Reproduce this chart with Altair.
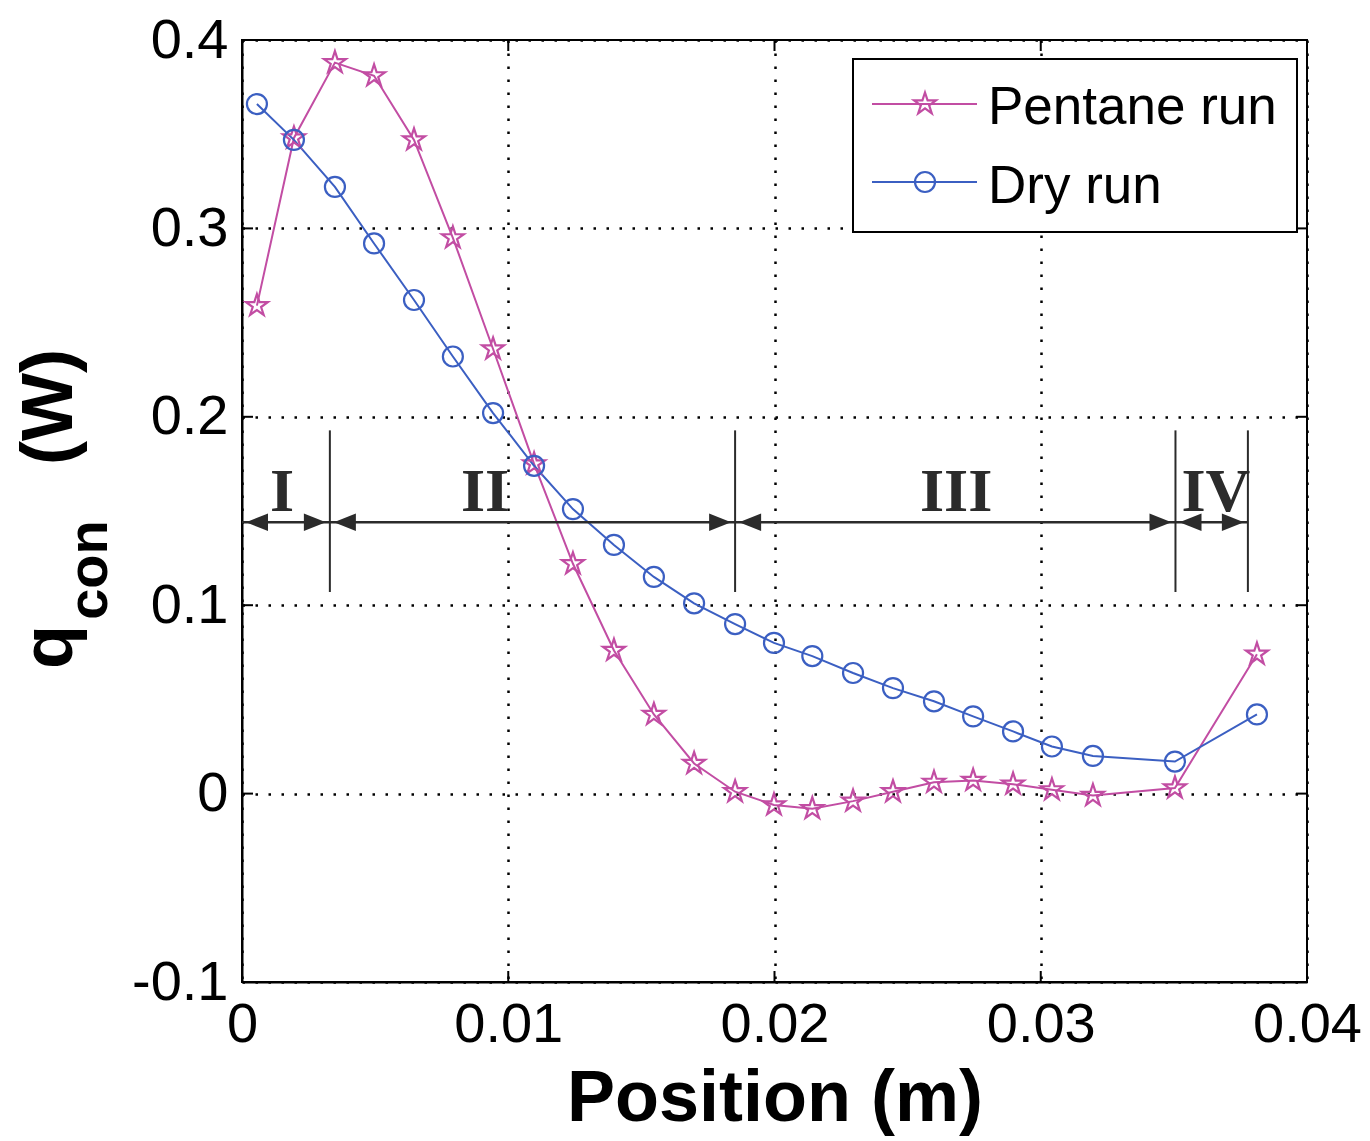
import altair as alt
import pandas as pd

# ---------------- data ----------------
position_m = [0.00056, 0.00195, 0.00349, 0.00496, 0.00646, 0.00792, 0.00943, 0.01097,
              0.01243, 0.01397, 0.01547, 0.01698, 0.01852, 0.01998, 0.02142, 0.02295,
              0.02445, 0.02599, 0.02746, 0.02896, 0.03042, 0.03196, 0.03504, 0.03812]
pentane_q = [0.259, 0.348, 0.388, 0.381, 0.347, 0.295, 0.236, 0.175,
             0.122, 0.076, 0.042, 0.016, 0.001, -0.006, -0.008, -0.004,
             0.001, 0.006, 0.007, 0.005, 0.002, -0.001, 0.003, 0.074]
dry_q = [0.366, 0.347, 0.322, 0.292, 0.262, 0.232, 0.202, 0.174,
         0.151, 0.132, 0.115, 0.101, 0.090, 0.080, 0.073, 0.064,
         0.056, 0.049, 0.041, 0.033, 0.025, 0.020, 0.017, 0.042]
series_names = ["Pentane run", "Dry run"]
series_colors = ["#c24da3", "#3b5fc2"]

region_labels = ["I", "II", "III", "IV"]
region_bounds = [0.0, 0.0033, 0.01852, 0.03506, 0.03778]
region_label_x = [0.0015, 0.00913, 0.02682, 0.03658]
region_line_top = 0.1928
region_line_bottom = 0.107
region_arrow_y = 0.144
region_label_base = 0.150

x_ticks = [0, 0.01, 0.02, 0.03, 0.04]
y_ticks = [-0.1, 0, 0.1, 0.2, 0.3, 0.4]

# ---------------- tables ----------------
df = pd.DataFrame({
    "x": position_m + position_m,
    "q": pentane_q + dry_q,
    "series": [series_names[0]] * len(position_m) + [series_names[1]] * len(position_m),
})
regions = pd.DataFrame({
    "start": region_bounds[:-1],
    "end": region_bounds[1:],
    "label": region_labels,
    "lx": region_label_x,
})
bounds = pd.DataFrame({"b": region_bounds[1:]})
xt = pd.DataFrame({"v": x_ticks})
yt = pd.DataFrame({"v": y_ticks})

W, H = 1065, 942
DARK = "#2b2b2b"
STAR = "M0,-1L0.225,-0.309L0.951,-0.309L0.363,0.118L0.588,0.809L0,0.382L-0.588,0.809L-0.363,0.118L-0.951,-0.309L-0.225,-0.309Z"
HEAD_LEFT = "M0,0L2,-0.8L2,0.8Z"
HEAD_RIGHT = "M0,0L-2,-0.8L-2,0.8Z"
LABEL_FONT = "Liberation Sans, Arial"
TITLE_FONT = "Liberation Sans, Arial"
STAR_SIZE = 530
CIRCLE_SIZE = 400

xscale = alt.Scale(domain=[0, 0.04], nice=False, zero=False)
yscale = alt.Scale(domain=[-0.1, 0.4], nice=False, zero=False)
cscale = alt.Scale(domain=series_names, range=series_colors)

x_enc = alt.X("x:Q", scale=xscale, axis=alt.Axis(
    values=x_ticks, labelExpr="toString(datum.value)", title="Position (m)",
    titleFont=TITLE_FONT, titleFontSize=72, titleFontWeight="bold",
    titleBaseline="alphabetic", titleY=138, titleColor="black",
    labelFont=LABEL_FONT, labelFontSize=56, labelPadding=15, labelColor="black",
    labelBaseline="top", labelFlush=False, labelOverlap=False))
y_enc = alt.Y("q:Q", scale=yscale, axis=alt.Axis(
    values=y_ticks, labelExpr="toString(datum.value)", title=None,
    labelFont=LABEL_FONT, labelFontSize=56, labelPadding=14, labelColor="black",
    labelFlush=False, labelOverlap=False))

lines = alt.Chart(df).mark_line(strokeWidth=2).encode(
    x=x_enc, y=y_enc,
    color=alt.Color("series:N", scale=cscale, legend=None),
    detail="series:N",
)
stars = alt.Chart(df).transform_filter(alt.datum.series == series_names[0]).mark_point(
    shape=STAR, size=STAR_SIZE, filled=False, strokeWidth=2.2, color=series_colors[0], opacity=1
).encode(x="x:Q", y="q:Q")
circles = alt.Chart(df).transform_filter(alt.datum.series == series_names[1]).mark_point(
    shape="circle", size=CIRCLE_SIZE, filled=False, strokeWidth=2.2, color=series_colors[1], opacity=1
).encode(x="x:Q", y="q:Q")

# inward tick marks (MATLAB style box)
tick_left = alt.Chart(yt).mark_rule(color="black", strokeWidth=2).encode(
    y=alt.Y("v:Q"), x=alt.value(0), x2=alt.value(11))
tick_right = alt.Chart(yt).mark_rule(color="black", strokeWidth=2).encode(
    y=alt.Y("v:Q"), x=alt.value(W - 11), x2=alt.value(W))
tick_bottom = alt.Chart(xt).mark_rule(color="black", strokeWidth=2).encode(
    x=alt.X("v:Q"), y=alt.value(H - 11), y2=alt.value(H))
tick_top = alt.Chart(xt).mark_rule(color="black", strokeWidth=2).encode(
    x=alt.X("v:Q"), y=alt.value(0), y2=alt.value(11))

# region annotations
vlines = alt.Chart(bounds).mark_rule(color=DARK, strokeWidth=2).encode(
    x=alt.X("b:Q"), y=alt.Y(datum=region_line_top), y2=alt.Y2(datum=region_line_bottom))
shafts = alt.Chart(regions).mark_rule(color=DARK, strokeWidth=2.5).encode(
    x=alt.X("start:Q"), x2="end:Q", y=alt.Y(datum=region_arrow_y))
heads_l = alt.Chart(regions).mark_point(
    shape=HEAD_LEFT, size=484, filled=True, color=DARK, opacity=1, strokeWidth=0, xOffset=4
).encode(x=alt.X("start:Q"), y=alt.Y(datum=region_arrow_y))
heads_r = alt.Chart(regions).mark_point(
    shape=HEAD_RIGHT, size=484, filled=True, color=DARK, opacity=1, strokeWidth=0, xOffset=-4
).encode(x=alt.X("end:Q"), y=alt.Y(datum=region_arrow_y))
rlabels = alt.Chart(regions).mark_text(
    font="Liberation Serif", fontWeight="bold", fontSize=62, baseline="alphabetic",
    align="center", color=DARK
).encode(x=alt.X("lx:Q"), y=alt.Y(datum=region_label_base), text="label:N")

# y-axis title q_con (W)
ytitle_q = alt.Chart(pd.DataFrame({"t": ["q"]})).mark_text(
    font=TITLE_FONT, fontWeight="bold", fontSize=72, angle=270, align="center",
    baseline="alphabetic", color="black").encode(
    x=alt.value(-170), y=alt.value(607), text="t:N")
ytitle_sub = alt.Chart(pd.DataFrame({"t": ["con"]})).mark_text(
    font=TITLE_FONT, fontWeight="bold", fontSize=56, angle=270, align="center",
    baseline="alphabetic", color="black").encode(
    x=alt.value(-135), y=alt.value(530), text="t:N")
ytitle_w = alt.Chart(pd.DataFrame({"t": ["(W)"]})).mark_text(
    font=TITLE_FONT, fontWeight="bold", fontSize=72, angle=270, align="center",
    baseline="alphabetic", color="black").encode(
    x=alt.value(-170), y=alt.value(367), text="t:N")

# legend
leg_box = alt.Chart(pd.DataFrame({"a": [0]})).mark_rect(
    fill="white", stroke="black", strokeWidth=2).encode(
    x=alt.value(611), x2=alt.value(1055), y=alt.value(19), y2=alt.value(192))
legend_layers = [leg_box]
leg_rows = [64, 142]
leg_base = [84, 163]
leg_shapes = [(STAR, STAR_SIZE), ("circle", CIRCLE_SIZE)]
for i, name in enumerate(series_names):
    one = pd.DataFrame({"label": [name]})
    legend_layers.append(alt.Chart(one).mark_rule(color=series_colors[i], strokeWidth=2).encode(
        x=alt.value(630), x2=alt.value(735), y=alt.value(leg_rows[i])))
    legend_layers.append(alt.Chart(one).mark_point(
        shape=leg_shapes[i][0], size=leg_shapes[i][1], filled=False, strokeWidth=2.2,
        color=series_colors[i], opacity=1).encode(x=alt.value(683), y=alt.value(leg_rows[i])))
    legend_layers.append(alt.Chart(one).mark_text(
        font=LABEL_FONT, fontSize=53, align="left", baseline="alphabetic", color="black").encode(
        x=alt.value(746), y=alt.value(leg_base[i]), text="label:N"))

chart = alt.layer(
    lines, stars, circles,
    tick_left, tick_right, tick_bottom, tick_top,
    vlines, shafts, heads_l, heads_r, rlabels,
    ytitle_q, ytitle_sub, ytitle_w,
    *legend_layers,
).properties(
    width=W, height=H,
    autosize=alt.AutoSizeParams(type="none"),
    padding={"left": 234, "top": 32, "right": 55, "bottom": 157},
    background="white",
).configure_view(
    stroke="black", strokeWidth=2
).configure_axis(
    domainColor="black", domainWidth=2, ticks=False, tickSize=0,
    grid=True, gridColor="black", gridDash=[2.5, 10.5], gridWidth=2.5, gridOpacity=1,
)

chart.save("out.html", embed_options={"renderer": "svg", "actions": False})
